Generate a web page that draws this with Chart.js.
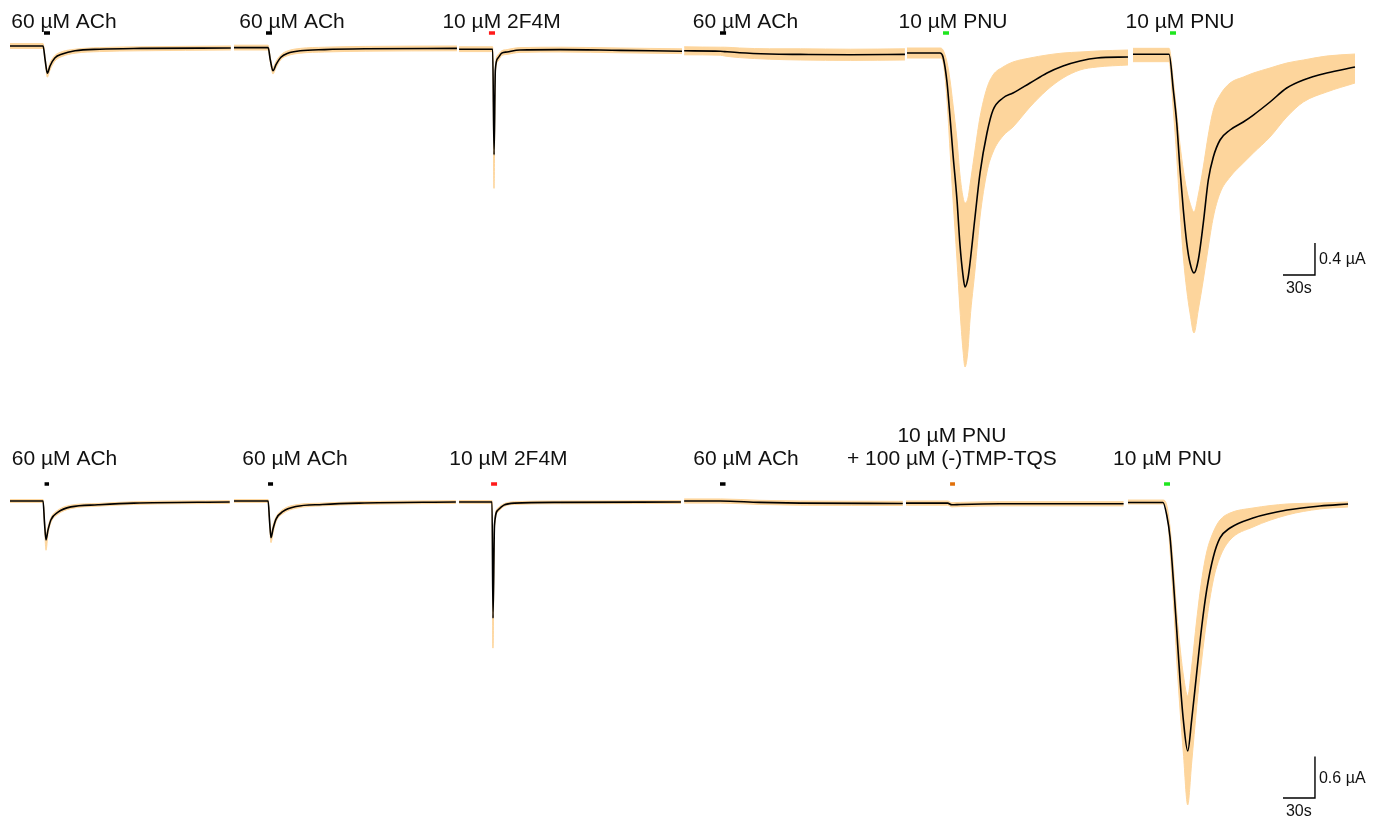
<!DOCTYPE html>
<html>
<head>
<meta charset="utf-8">
<script src="https://cdn.jsdelivr.net/npm/chart.js@4.4.1/dist/chart.umd.min.js"></script>
<style>
  html, body { margin: 0; padding: 0; background: #fff; }
  #wrap { position: relative; width: 1381px; height: 822px; }
  canvas { position: absolute; left: 0; }
  #topChart { top: 0; }
  #botChart { top: 411px; }
</style>
</head>
<body>
<div id="wrap">
  <canvas id="topChart" width="1381" height="411"></canvas>
  <canvas id="botChart" width="1381" height="411"></canvas>
</div>
<script>
// time (s), current (µA). each row: [t, mean, mean+err, mean-err]
const topAch1 = [
  [0, 0, 0.03, -0.03], [31, 0, 0.03, -0.03], [33, -0.18, -0.15, -0.21], [35, -0.34, -0.3, -0.39],
  [37.5, -0.25, -0.21, -0.3], [42, -0.15, -0.12, -0.19], [49, -0.1, -0.07, -0.13], [61, -0.06, -0.04, -0.09],
  [84, -0.04, -0.02, -0.07], [122, -0.03, -0.01, -0.06], [207, -0.025, 0, -0.05]
];
const topAch2 = [
  [210, -0.02, 0.01, -0.05], [242, -0.02, 0.01, -0.05], [244, -0.17, -0.14, -0.2], [246.5, -0.31, -0.27, -0.35],
  [249.5, -0.23, -0.19, -0.27], [254, -0.14, -0.11, -0.17], [260.5, -0.09, -0.06, -0.12], [272, -0.06, -0.03, -0.09],
  [295, -0.045, -0.015, -0.075], [333, -0.035, -0.005, -0.065], [419, -0.03, 0, -0.06]
];
const top2F4M = [
  [421, -0.04, -0.01, -0.07], [452.5, -0.04, -0.01, -0.07], [453.8, -1.36, -1.2, -1.78], [455, -0.3, -0.25, -0.36],
  [457.5, -0.15, -0.11, -0.19], [461, -0.09, -0.06, -0.12], [466, -0.075, -0.045, -0.105], [478, -0.05, -0.02, -0.08],
  [516, -0.045, -0.015, -0.075], [572, -0.055, -0.025, -0.085], [630, -0.065, -0.035, -0.095]
];
const topAch3 = [
  [632, -0.06, -0.01, -0.11], [666, -0.065, -0.015, -0.115], [670, -0.07, -0.015, -0.125], [684, -0.085, -0.025, -0.145],
  [712, -0.1, -0.035, -0.165], [741, -0.105, -0.035, -0.175], [788, -0.11, -0.04, -0.18], [839, -0.105, -0.035, -0.175]
];
const topPnu1 = [
  [840.9, -0.0875, -0.025, -0.15], [871.9, -0.0875, -0.025, -0.15], [874.7, -0.1375, -0.05, -0.2],
  [878.4, -0.45, -0.2, -0.675], [881.25, -0.8875, -0.425, -1.3], [884.1, -1.3625, -0.7375, -1.925],
  [887.8, -1.925, -1.175, -2.675], [890.6, -2.4875, -1.6125, -3.3], [893.4, -2.8625, -1.8875, -3.8],
  [895.3, -3.0125, -1.9625, -4.0125], [898.1, -2.9, -1.9, -3.8], [900, -2.7125, -1.7375, -3.425],
  [904.7, -2.1375, -1.3, -2.8], [909.4, -1.5875, -0.8875, -2.1375], [915.9, -1.0875, -0.525, -1.575],
  [921.6, -0.8, -0.3625, -1.325], [930.9, -0.65, -0.2625, -1.125], [940.3, -0.5875, -0.2, -1.0125],
  [956.25, -0.4625, -0.15, -0.7625], [972.2, -0.3375, -0.1125, -0.55], [987.2, -0.25, -0.0875, -0.4],
  [1003.1, -0.1875, -0.075, -0.3], [1019.1, -0.15, -0.0625, -0.2625], [1048.1, -0.1375, -0.05, -0.2375]
];
const topPnu2 = [
  [1052.8, -0.104, -0.029, -0.196], [1086.6, -0.104, -0.029, -0.196], [1090.6, -0.55, -0.425, -0.8],
  [1093.8, -0.963, -0.838, -1.388], [1096.9, -1.55, -1.238, -2.05], [1100, -2.05, -1.55, -2.638],
  [1103.2, -2.463, -1.8, -3.05], [1106.25, -2.713, -1.963, -3.338], [1110, -2.838, -2.075, -3.588],
  [1114, -2.675, -1.863, -3.3], [1118.7, -2.213, -1.513, -2.925], [1123.4, -1.675, -1.113, -2.513],
  [1128.1, -1.388, -0.8, -2.138], [1134.4, -1.175, -0.613, -1.838], [1143.75, -1.05, -0.463, -1.638],
  [1156.2, -0.95, -0.388, -1.463], [1165.6, -0.863, -0.338, -1.338], [1181.25, -0.7, -0.275, -1.138],
  [1196.9, -0.525, -0.213, -0.888], [1212.5, -0.425, -0.175, -0.7], [1234.4, -0.338, -0.125, -0.575],
  [1260.9, -0.263, -0.1, -0.463]
];

const botAch1 = [
  [0, 0, 0.02, -0.02], [31, 0, 0.02, -0.02], [32.3, -0.3, -0.25, -0.36], [33.75, -0.56, -0.49, -0.71],
  [35.6, -0.42, -0.37, -0.48], [38.4, -0.27, -0.24, -0.31], [45, -0.16, -0.13, -0.19], [57, -0.085, -0.06, -0.11],
  [82.5, -0.055, -0.035, -0.075], [116, -0.03, -0.01, -0.05], [206, -0.015, 0.005, -0.035]
];
const botAch2 = [
  [210, 0, 0.02, -0.02], [242, 0, 0.02, -0.02], [243.3, -0.28, -0.24, -0.33], [244.7, -0.53, -0.47, -0.6],
  [246.6, -0.4, -0.35, -0.46], [249.4, -0.26, -0.23, -0.3], [256, -0.15, -0.12, -0.18], [268, -0.08, -0.055, -0.105],
  [293, -0.05, -0.03, -0.07], [327, -0.03, -0.01, -0.05], [418, -0.015, 0.005, -0.035]
];
const bot2F4M = [
  [421, -0.014, 0.006, -0.034], [451.9, -0.014, 0.006, -0.034], [452.8, -1.69, -1.5, -2.12], [454.2, -0.35, -0.3, -0.4],
  [457.5, -0.13, -0.1, -0.16], [463, -0.06, -0.04, -0.08], [473, -0.03, -0.01, -0.05], [516, -0.02, 0, -0.04],
  [629, -0.015, 0.005, -0.035]
];
const botAch3 = [
  [632, 0, 0.03, -0.03], [666, 0, 0.03, -0.03], [703, -0.02, 0.01, -0.05], [741, -0.03, 0, -0.06], [837, -0.035, -0.005, -0.065]
];
const botPnuTmp = [
  [840, -0.03, 0, -0.06], [879, -0.03, 0, -0.06], [883, -0.055, -0.025, -0.085], [891, -0.05, -0.02, -0.08],
  [928, -0.04, -0.01, -0.07], [1044, -0.04, -0.01, -0.07]
];
const botPnu = [
  [1048.1, -0.022, 0.014, -0.043], [1080.9, -0.022, 0.014, -0.043], [1084.4, -0.202, -0.058, -0.13],
  [1087.5, -0.519, -0.375, -0.706], [1090.6, -1.138, -0.922, -1.427], [1093.8, -1.859, -1.599, -2.291],
  [1096.9, -2.579, -2.104, -3.012], [1100, -3.156, -2.507, -3.631], [1104.1, -3.602, -2.81, -4.38],
  [1107.8, -3.156, -2.392, -3.775], [1112.5, -2.478, -1.715, -2.968], [1117.2, -1.816, -1.138, -2.291],
  [1121.9, -1.282, -0.735, -1.715], [1128.1, -0.807, -0.447, -1.138], [1134.4, -0.533, -0.274, -0.807],
  [1143.75, -0.389, -0.173, -0.562], [1165.3, -0.245, -0.101, -0.375], [1197.2, -0.13, -0.043, -0.202],
  [1228.1, -0.072, -0.029, -0.115], [1254.4, -0.043, -0.014, -0.086]
];

const topLabels = [['60 µM ACh'], ['60 µM ACh'], ['10 µM 2F4M'], ['60 µM ACh'], ['10 µM PNU'], ['10 µM PNU']];
const topLabelT = [50.6, 264.4, 460.8, 689.5, 884.1, 1096.9];
const topAppT = [[31.9, 37.5], [240, 245.6], [449, 454.7], [665.6, 671.3], [874.7, 880.3], [1087.5, 1093.1]];
const topAppColor = ['#000000', '#000000', '#ff1a1a', '#000000', '#1ee61e', '#1ee61e'];

const botLabels = [['60 µM ACh'], ['60 µM ACh'], ['10 µM 2F4M'], ['60 µM ACh'], ['10 µM PNU', '+ 100 µM (-)TMP-TQS'], ['10 µM PNU']];
const botLabelT = [51.1, 267.2, 467.3, 690, 883, 1085.2];
const botAppT = [[32.4, 36.6], [241.9, 246.6], [451, 456.6], [665.6, 670.8], [881.3, 885.9], [1081.9, 1087.5]];
const botAppColor = ['#000000', '#000000', '#ff1a1a', '#000000', '#e0700a', '#1ee61e'];

const BAND = '#fdd59c';
const FONT = '"Liberation Sans", Arial, sans-serif';

const labelPlugin = {
  id: 'labels',
  afterDraw(chart) {
    const cfg = chart.options.plugins.labels;
    const ctx = chart.ctx, x = chart.scales.x, y = chart.scales.y;
    ctx.save();
    ctx.fillStyle = '#111';
    ctx.textBaseline = 'alphabetic';
    ctx.font = '21px ' + FONT;
    ctx.textAlign = 'center';
    cfg.text.forEach((lines, i) => {
      const px = x.getPixelForValue(cfg.at[i]);
      const py = y.getPixelForValue(cfg.labelY);
      lines.forEach((s, j) => ctx.fillText(s, px, py - (lines.length - 1 - j) * 23.5));
    });
    ctx.font = '16px ' + FONT;
    ctx.textAlign = 'left';
    const b = cfg.bar;
    ctx.fillText(b.ampText, x.getPixelForValue(b.x0 + 30) + 4, y.getPixelForValue(b.y0 + b.dy * 0.35));
    ctx.fillText('30s', x.getPixelForValue(b.x0) + 3, y.getPixelForValue(b.y0) + 18);
    ctx.restore();
  }
};

function buildChart(id, sweeps, labels, labelT, appT, appColor, cfg) {
  const datasets = [];
  const line = { pointRadius: 0, fill: false, borderJoinStyle: 'round' };
  sweeps.forEach(s => datasets.push({
    ...line, data: s.map(r => ({ x: r[0], y: r[1] })),
    borderColor: '#000', borderWidth: 1.6, cubicInterpolationMode: 'monotone'
  }));
  appT.forEach((a, i) => datasets.push({
    ...line, data: [{ x: a[0], y: cfg.appY }, { x: a[1], y: cfg.appY }],
    borderColor: appColor[i], borderWidth: 3.5, borderCapStyle: 'butt'
  }));
  const b = cfg.bar;
  datasets.push({
    ...line, data: [{ x: b.x0, y: b.y0 }, { x: b.x0 + 30, y: b.y0 }, { x: b.x0 + 30, y: b.y0 + b.dy }],
    borderColor: '#000', borderWidth: 1.4, borderJoinStyle: 'miter'
  });
  sweeps.forEach(s => {
    datasets.push({
      data: s.map(r => ({ x: r[0], y: r[2] })), pointRadius: 0, borderWidth: 1, borderColor: BAND,
      backgroundColor: BAND, fill: '+1', cubicInterpolationMode: 'monotone'
    });
    datasets.push({
      data: s.map(r => ({ x: r[0], y: r[3] })), pointRadius: 0, borderWidth: 1, borderColor: BAND,
      fill: false, cubicInterpolationMode: 'monotone'
    });
  });
  return new Chart(document.getElementById(id), {
    type: 'line',
    data: { datasets },
    options: {
      responsive: false, animation: false, events: [], devicePixelRatio: 1,
      layout: { padding: 0 },
      plugins: {
        legend: { display: false }, tooltip: { enabled: false },
        labels: { text: labels, at: labelT, labelY: cfg.labelY, bar: b }
      },
      scales: {
        x: { type: 'linear', min: -9.375, max: 1285.3, display: false },
        y: { min: cfg.yMin, max: cfg.yMax, display: false }
      }
    },
    plugins: [labelPlugin]
  });
}

buildChart('topChart', [topAch1, topAch2, top2F4M, topAch3, topPnu1, topPnu2],
  topLabels, topLabelT, topAppT, topAppColor,
  { yMin: -4.5625, yMax: 0.575, appY: 0.1625, labelY: 0.225,
    bar: { x0: 1193.4, y0: -2.8625, dy: 0.4, ampText: '0.4 µA' } });

buildChart('botChart', [botAch1, botAch2, bot2F4M, botAch3, botPnuTmp, botPnu],
  botLabels, botLabelT, botAppT, botAppColor,
  { yMin: -4.6254, yMax: 1.2968, appY: 0.245, labelY: 0.512,
    bar: { x0: 1193.4, y0: -4.28, dy: 0.6, ampText: '0.6 µA' } });
</script>
</body>
</html>
